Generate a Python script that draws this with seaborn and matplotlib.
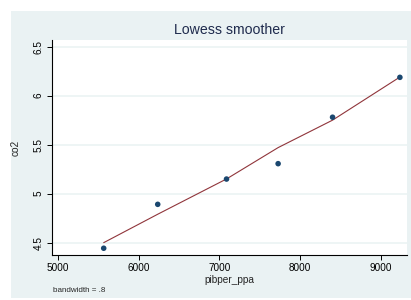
import matplotlib
matplotlib.use("Agg")
import matplotlib.pyplot as plt
from matplotlib.patches import Rectangle
import pandas as pd
import seaborn as sns

# values
pibper_ppa = [5566, 6235, 7087, 7726, 8400, 9234]
co2 = [4.443, 4.891, 5.149, 5.306, 5.780, 6.187]
co2_lowess = [4.500, 4.790, 5.150, 5.470, 5.750, 6.190]
x_ticks = [5000, 6000, 7000, 8000, 9000]
y_ticks = [4.5, 5, 5.5, 6, 6.5]
y_tick_labels = ["4.5", "5", "5.5", "6", "6.5"]

df = pd.DataFrame({"pibper_ppa": pibper_ppa, "co2": co2, "smooth": co2_lowess})

sns.set_style("white")
plt.rcParams["font.family"] = ["Liberation Sans", "DejaVu Sans"]

fig = plt.figure(figsize=(4.11, 3.00), dpi=100)
fig.patch.set_facecolor("white")
# stata-like graph region, drawn behind the axes
fig.patches.append(Rectangle((11 / 411, 2 / 300), 400 / 411, 287 / 300,
                             transform=fig.transFigure, facecolor="#eaf2f3",
                             edgecolor="none", zorder=-10))

ax = fig.add_axes([51.7 / 411, 45 / 300, 355.3 / 411, 215 / 300])
ax.set_facecolor("white")

for yt in y_ticks:
    ax.axhline(yt, color="#eaf2f3", lw=1.1, zorder=0)

sns.lineplot(data=df, x="pibper_ppa", y="smooth", color="#90353b", lw=0.8, ax=ax, zorder=2)
sns.scatterplot(data=df, x="pibper_ppa", y="co2", color="#1a476f", s=16,
                edgecolor="none", ax=ax, zorder=3)

ax.set_xlim(4922, 9322)
ax.set_ylim(4.374, 6.568)
ax.set_xticks(x_ticks)
ax.set_xticklabels([str(v) for v in x_ticks])
ax.set_yticks(y_ticks)
ax.set_yticklabels(y_tick_labels, rotation=90, va="center")

for side in ["top", "right"]:
    ax.spines[side].set_visible(False)
for side in ["left", "bottom"]:
    ax.spines[side].set_color("black")
    ax.spines[side].set_linewidth(0.8)

ax.tick_params(axis="both", direction="out", length=3.5, width=0.7, colors="black",
               labelsize=7.2, pad=2.5, left=True, bottom=True)

ax.set_xlabel("pibper_ppa", fontsize=7.3, labelpad=1)
ax.set_ylabel("co2", fontsize=7.3, labelpad=9)
ax.set_title("Lowess smoother", fontsize=10.2, color="#1f2b4d", pad=4)

fig.text(53 / 411, 1 - 290 / 300, "bandwidth = .8", fontsize=5.8, va="center", ha="left")

fig.savefig("out.png", dpi=100)
